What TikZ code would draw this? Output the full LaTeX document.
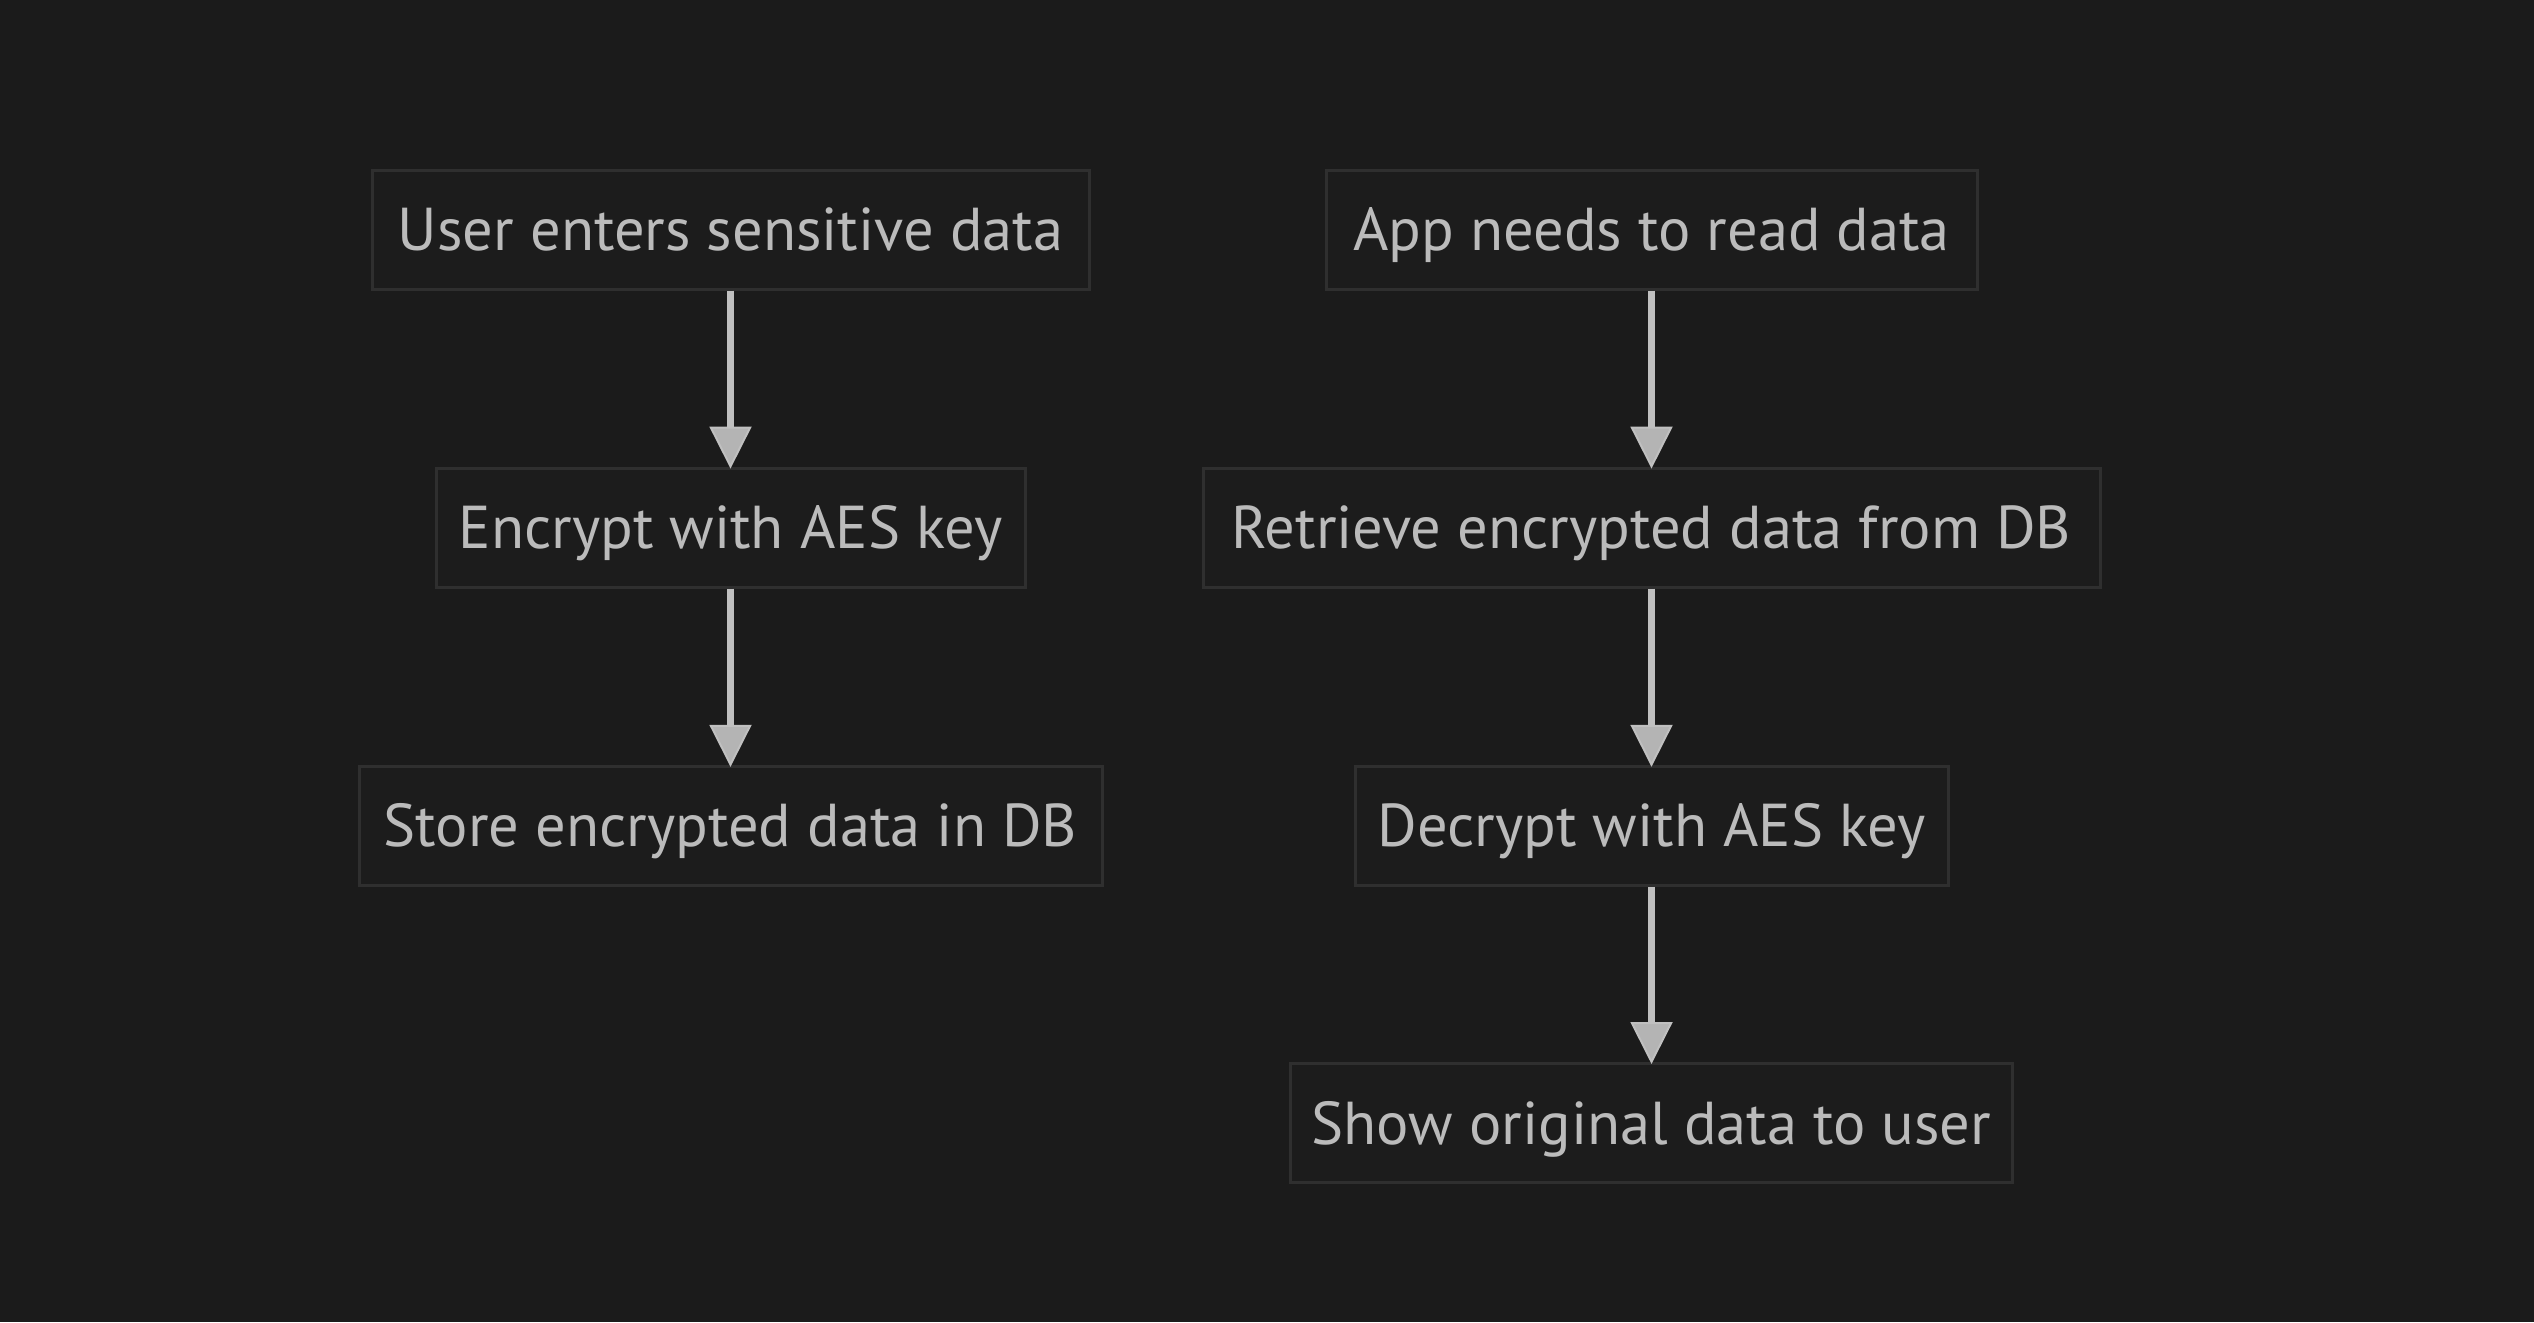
\documentclass[tikz,border=0pt]{standalone}
\usepackage{fontspec}
\setmainfont{PT Sans}
\usetikzlibrary{arrows.meta}
\definecolor{bg}{HTML}{1B1B1B}
\definecolor{boxfill}{HTML}{1C1C1C}
\definecolor{boxline}{HTML}{2F2F2F}
\definecolor{txt}{HTML}{BBBBBB}
\definecolor{arr}{HTML}{C0C0C0}
\definecolor{arrfill}{HTML}{B4B4B4}
\tikzset{
  stepbox/.style={draw=boxline, fill=boxfill, line width=3pt, minimum height=119pt,
    inner sep=0pt, text height=42pt, text depth=0pt, text=txt, font=\fontsize{60.5}{64}\selectfont},
  flow/.style={draw=arr, line width=6.5pt,
    -{Triangle[width=42pt,length=42pt,fill=arrfill,line width=2pt]}, shorten >=-2pt}
}
\begin{document}
\begin{tikzpicture}[x=1pt,y=-1pt]
\fill[bg] (0,0) rectangle (2534,1322);
\useasboundingbox (0,0) rectangle (2534,1322);
\node[stepbox, minimum width=717pt] (a1) at (730.5,229.5) {User enters sensitive data};
\node[stepbox, minimum width=589pt] (a2) at (730.5,527.6) {Encrypt with AES key};
\node[stepbox, minimum width=743pt] (a3) at (730.5,825.8) {Store encrypted data in DB};
\node[stepbox, minimum width=651pt] (b1) at (1651.5,229.5) {App needs to read data};
\node[stepbox, minimum width=897pt] (b2) at (1651.5,527.6) {Retrieve encrypted data from DB};
\node[stepbox, minimum width=593pt] (b3) at (1651.5,825.8) {Decrypt with AES key};
\node[stepbox, minimum width=722pt] (b4) at (1651.5,1123) {Show original data to user};
\draw[flow] (a1) -- (a2);
\draw[flow] (a2) -- (a3);
\draw[flow] (b1) -- (b2);
\draw[flow] (b2) -- (b3);
\draw[flow] (b3) -- (b4);
\end{tikzpicture}
\end{document}
